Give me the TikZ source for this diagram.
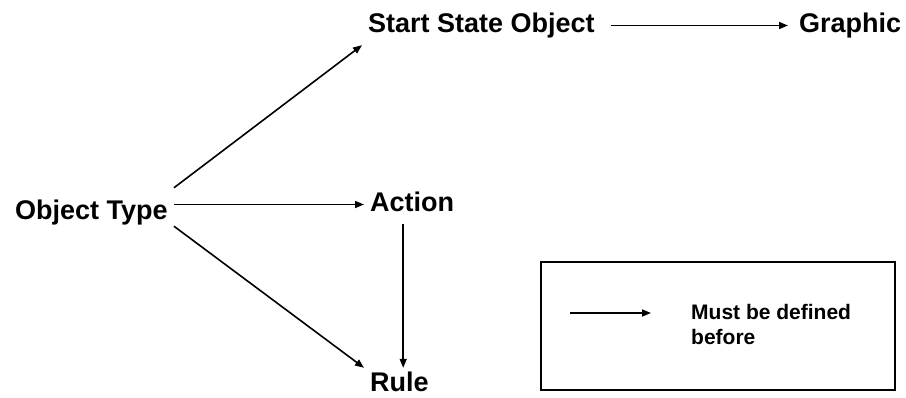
\documentclass[tikz,border=0pt]{standalone}
\usepackage{fontspec}
\setmainfont{Liberation Sans}
\usetikzlibrary{arrows.meta}
\usetikzlibrary{positioning}

\begin{document}
\begin{tikzpicture}[x=1pt, y=1pt,
	item/.style = {font=\fontsize{27}{33}\selectfont\bfseries, inner sep=6pt,
		text height=21pt, text depth=6pt},
	legtext/.style = {font=\fontsize{21}{25}\selectfont\bfseries, inner sep=0pt, align=left},
	arr/.style = {line width=1.6pt, -{Triangle[length=9pt, width=7pt]}},
	legbox/.style = {draw, line width=1.8pt, minimum width=354pt, minimum height=128pt, inner sep=0pt}]

	\useasboundingbox (0,0) rectangle (906,397);

	% nodes
	\node[item, anchor=base west] (ot)  at (9,177) {Object Type};
	\node[item, anchor=base west] (sso) at (362,364) {Start State Object};
	\node[item, anchor=base west] (gr)  at (793,364) {Graphic};
	\node[item, anchor=base west] (act) at (364,185) {Action};
	\node[item, anchor=base west, inner ysep=0pt, text height=23pt, text depth=0pt] (rl) at (364,6) {Rule};

	% connectors
	\draw[arr] ([yshift=5pt]ot.north east) -- (sso.south west);
	\draw[arr] (ot.east |- act.west) -- (act.west);
	\draw[arr] ([yshift=6pt]ot.south east) -- (rl.north west);
	\draw[arr] ([xshift=-9pt]act.south) -- ([xshift=-9pt]act.south |- rl.north);
	\draw[arr, shorten <=10pt, shorten >=5pt] (sso.east) -- (gr.west);

	% legend
	\node[legbox] (leg) at (718,71) {};
	\node[legtext, anchor=north west] (legtxt) at (691,93) {Must be defined\\before};
	\coordinate (legstart) at (570,84);
	\draw[arr] (legstart) -- ([xshift=-40pt]legtxt.west |- legstart);

\end{tikzpicture}
\end{document}
